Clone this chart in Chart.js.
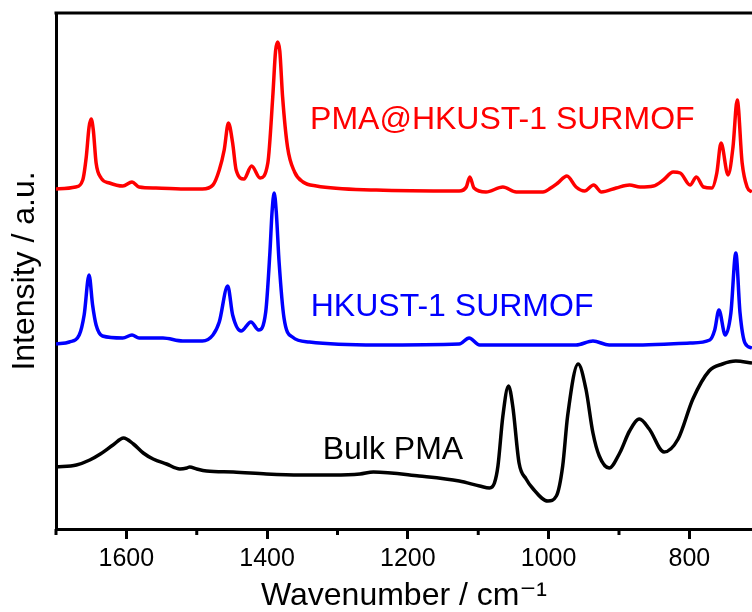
<!DOCTYPE html>
<html>
<head>
<meta charset="utf-8">
<script src="https://cdn.jsdelivr.net/npm/chart.js@4"></script>
<style>
  html, body { margin: 0; padding: 0; background: #fff; }
  canvas { display: block; }
</style>
</head>
<body>
<canvas id="spectra" width="752" height="612"></canvas>
<script>
// Wavenumbers (cm-1) and intensities (a.u., offset per trace)
const pmaSurmofWn = [1700,1672,1662,1657,1653,1650,1647,1643,1636,1624,1605,1592,1582,1558,1511,1492,1477,1468,1461,1455,1449,1444,1433,1422,1410,1399,1392,1388,1385,1382,1378,1371,1361,1349,1330,1245,1127,1117,1112,1106,1089,1065,1046,1008,997,987,974,961,949,936,925,904,885,870,851,837,823,813,799,790,780,768,761,755,745,738,732,725,718,711];
const pmaSurmofInt = [34.0,34.2,34.9,37.2,40.2,41.0,39.9,36.6,35.1,34.6,34.3,34.7,34.2,34.1,34.0,34.0,34.4,35.9,37.9,40.6,38.6,35.9,35.0,36.3,35.1,36.6,43.2,47.8,48.7,47.8,43.2,38.2,35.7,34.7,34.3,33.9,33.8,34.2,35.2,34.1,33.7,34.2,33.7,33.7,34.1,34.6,35.3,34.2,33.8,34.4,33.7,34.1,34.4,34.2,34.3,34.9,35.7,35.6,34.4,35.2,34.2,34.1,35.6,38.6,35.4,38.2,42.9,36.6,34.2,33.7];

const surmofWn = [1700,1681,1667,1660,1653,1648,1643,1634,1605,1592,1582,1548,1520,1492,1477,1468,1456,1449,1437,1423,1412,1402,1396,1393,1390,1387,1383,1376,1364,1340,1245,1127,1113,1098,961,937,914,866,799,771,764,758,749,741,734,728,721,711];
const surmofInt = [18.5,18.7,19.4,21.4,25.4,22.4,20.4,19.3,19.1,19.4,19.1,19.1,18.8,18.8,19.4,20.7,24.3,21.4,19.8,20.7,19.9,21.7,27.7,31.7,33.6,31.7,26.7,21.1,19.2,18.7,18.4,18.5,19.1,18.4,18.4,18.8,18.4,18.4,18.6,18.9,19.9,21.9,19.4,21.6,27.6,21.6,18.6,18.1];

const bulkWn = [1700,1671,1652,1637,1619,1604,1590,1576,1562,1543,1524,1514,1510,1500,1486,1448,1401,1353,1306,1268,1249,1184,1127,1098,1084,1077,1072,1065,1057,1051,1042,1032,1023,1001,989,980,973,958,947,937,928,914,899,885,871,857,836,816,795,772,753,734,711];
const bulkInt = [6.2,6.4,6.9,7.5,8.4,9.1,8.5,7.6,7.0,6.5,6.0,6.1,6.2,6.0,5.8,5.7,5.5,5.4,5.4,5.5,5.7,5.3,4.8,4.3,4.1,4.6,6.3,11.3,14.3,12.3,6.6,5.0,4.1,2.8,3.3,6.3,11.3,16.5,14.0,9.6,7.3,6.1,7.6,9.8,11.0,10.0,7.7,9.0,13.0,15.8,16.5,16.8,16.6];

const majorTicks = [1600, 1400, 1200, 1000, 800];
const minorTicks = [1700, 1500, 1300, 1100, 900];

const FONT = "'Liberation Sans', Arial, 'DejaVu Sans', sans-serif";

const toPoints = (xs, ys) => xs.map((x, i) => ({ x: x, y: ys[i] }));

// Trace labels, anchored in data coordinates
const traceLabels = [
    { text: 'PMA@HKUST-1 SURMOF', x: 1339, y: 40.0, color: '#ff0000' },
    { text: 'HKUST-1 SURMOF', x: 1338, y: 21.3, color: '#0000ff' },
    { text: 'Bulk PMA', x: 1321, y: 7.0, color: '#000000' }
];

const framePlugin = {
    id: 'frame',
    afterDraw(chart) {
        const { ctx, chartArea, scales } = chart;
        ctx.save();
        ctx.strokeStyle = '#000';
        ctx.lineWidth = 3;
        // top border
        ctx.beginPath();
        ctx.moveTo(chartArea.left - 1.5, chartArea.top);
        ctx.lineTo(chartArea.right, chartArea.top);
        ctx.stroke();
        // minor ticks
        minorTicks.forEach(v => {
            const px = scales.x.getPixelForValue(v);
            ctx.beginPath();
            ctx.moveTo(px, chartArea.bottom);
            ctx.lineTo(px, chartArea.bottom + 6);
            ctx.stroke();
        });
        // labels
        ctx.font = '32px ' + FONT;
        ctx.textAlign = 'left';
        ctx.textBaseline = 'alphabetic';
        traceLabels.forEach(l => {
            ctx.fillStyle = l.color;
            ctx.fillText(l.text, scales.x.getPixelForValue(l.x), scales.y.getPixelForValue(l.y));
        });
        ctx.restore();
    }
};

new Chart(document.getElementById('spectra'), {
    type: 'line',
    data: {
        datasets: [
            { label: 'PMA@HKUST-1 SURMOF', data: toPoints(pmaSurmofWn, pmaSurmofInt), borderColor: '#ff0000' },
            { label: 'HKUST-1 SURMOF', data: toPoints(surmofWn, surmofInt), borderColor: '#0000ff' },
            { label: 'Bulk PMA', data: toPoints(bulkWn, bulkInt), borderColor: '#000000' }
        ]
    },
    options: {
        responsive: false,
        animation: false,
        layout: { padding: { top: 13, right: 0, bottom: 0, left: 0 } },
        elements: {
            line: { borderWidth: 3.5, cubicInterpolationMode: 'monotone', fill: false },
            point: { radius: 0 }
        },
        plugins: { legend: { display: false }, tooltip: { enabled: false } },
        scales: {
            x: {
                type: 'linear',
                reverse: true,
                min: 711,
                max: 1700,
                afterFit: s => { s.height = 83; },
                afterBuildTicks: s => { s.ticks = majorTicks.map(v => ({ value: v })); },
                grid: { drawOnChartArea: false, drawTicks: true, tickLength: 10, tickWidth: 3, tickColor: '#000' },
                border: { display: true, color: '#000', width: 3 },
                ticks: {
                    color: '#000',
                    padding: 5,
                    maxRotation: 0,
                    font: { family: FONT, size: 25 },
                    callback: v => String(v)
                },
                title: {
                    display: true,
                    text: 'Wavenumber / cm\u207B\u00B9',
                    color: '#000',
                    font: { family: FONT, size: 32, lineHeight: 1 },
                    padding: { top: 0, bottom: 0 }
                }
            },
            y: {
                min: 0,
                max: 51.6,
                afterFit: s => { s.width = 56; },
                grid: { display: false, drawTicks: false },
                border: { display: true, color: '#000', width: 3 },
                ticks: { display: false },
                title: {
                    display: true,
                    text: 'Intensity / a.u.',
                    color: '#000',
                    font: { family: FONT, size: 32, lineHeight: 1 },
                    padding: { top: 9, bottom: 0 }
                }
            }
        }
    },
    plugins: [framePlugin]
});
</script>
</body>
</html>
